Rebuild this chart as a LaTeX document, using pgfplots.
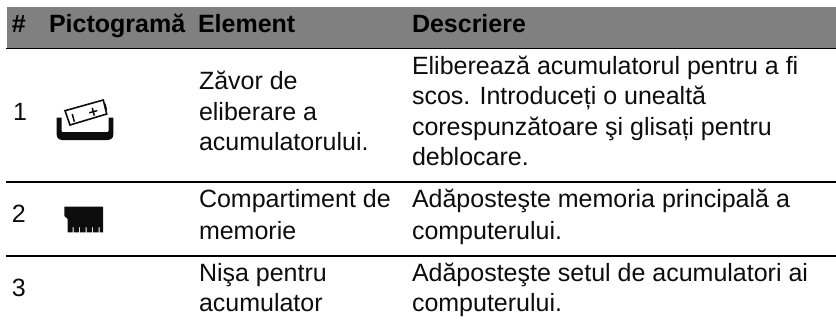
\documentclass[border=0pt]{standalone}
\usepackage{fontspec}
\setmainfont{Liberation Sans}
\usepackage{pgfplots}
\pgfplotsset{compat=1.18}
\definecolor{band}{HTML}{808080}
\definecolor{ink}{HTML}{0D0D0D}
\newcommand{\bt}[1]{\fontsize{25}{30}\selectfont\bfseries\color{black} #1}
\newcommand{\tx}[1]{\fontsize{25}{30}\selectfont #1}
\tikzset{t/.style={inner sep=0pt, outer sep=0pt, anchor=base west, text=ink}}
\begin{document}
\begin{tikzpicture}
\begin{axis}[
  hide axis, scale only axis, width=836pt, height=325pt,
  xmin=0, xmax=836, ymin=0, ymax=325, y dir=reverse,
]
% page
\addplot[draw=none, fill=white] coordinates {(0,0) (836,0) (836,325) (0,325)} --cycle;
% header band
\addplot[draw=none, fill=band] coordinates {(7,7) (836,7) (836,48) (7,48)} --cycle;
% rules
\addplot[black, line width=1.7pt] coordinates {(6,48.5) (836,48.5)};
\addplot[black, line width=1.7pt] coordinates {(6,182) (836,182)};
\addplot[black, line width=1.7pt] coordinates {(6,256) (836,256)};
% tray
\addplot[draw=none, fill=ink] coordinates {(56.7,117.7) (56.7,135) (57.4,137.5) (59,139.2) (62,140) (108,140) (111,139.2) (112.6,137.5) (113.3,135) (113.3,117.7) (108.5,117.7) (108.5,131) (107.5,132) (62.5,132) (61.5,131) (61.5,117.7)} --cycle;
% battery
\addplot[ink, line width=1.6pt] coordinates {(65,110.7) (103.3,100) (106.7,114) (70,125)} --cycle;
\addplot[draw=none, fill=ink] coordinates {(103.8,104) (105.6,103.4) (107.2,110) (105.4,110.6)} --cycle;
\addplot[ink, line width=1.5pt] coordinates {(72.3,114) (74.3,121.7)};
\addplot[ink, line width=1.5pt] coordinates {(89.3,112.8) (97.3,110.6)};
\addplot[ink, line width=1.5pt] coordinates {(92.3,107.8) (94.3,115.6)};
% memory module
\addplot[draw=none, fill=ink] coordinates {(64.3,206.7) (103,206.7) (103,232.3) (99.5,232.3) (99.5,227) (98.5,227) (98.5,232.3) (93,232.3) (93,227) (92,227) (92,232.3) (86.5,232.3) (86.5,227) (85.5,227) (85.5,232.3) (80,232.3) (80,227) (79,227) (79,232.3) (73.5,232.3) (73.5,227) (72.5,227) (72.5,232.3) (67.7,232.3) (67.7,219) (64.3,216)} --cycle;
% header
\node[t] at (axis cs:12,32) {\bt{\#}};
\node[t] at (axis cs:49,32) {\bt{Pictogramă}};
\node[t] at (axis cs:198,32) {\bt{Element}};
\node[t] at (axis cs:412,32) {\bt{Descriere}};
% row 1
\node[t] at (axis cs:13,120) {\tx{1}};
\node[t] at (axis cs:199,89.3) {\tx{Zăvor de}};
\node[t] at (axis cs:199,120) {\tx{eliberare a}};
\node[t] at (axis cs:199,150) {\tx{acumulatorului.}};
\node[t] at (axis cs:412,74.5) {\tx{Eliberează acumulatorul pentru a fi}};
\node[t] at (axis cs:412,104.5) {\tx{scos. Introduceți o unealtă}};
\node[t] at (axis cs:412,135) {\tx{corespunzătoare şi glisați pentru}};
\node[t] at (axis cs:412,165.5) {\tx{deblocare.}};
% row 2
\node[t] at (axis cs:12,222) {\tx{2}};
\node[t] at (axis cs:199,207.3) {\tx{Compartiment de}};
\node[t] at (axis cs:199,239) {\tx{memorie}};
\node[t] at (axis cs:412,207.3) {\tx{Adăposteşte memoria principală a}};
\node[t] at (axis cs:412,239) {\tx{computerului.}};
% row 3
\node[t] at (axis cs:12,296) {\tx{3}};
\node[t] at (axis cs:199,281) {\tx{Nişa pentru}};
\node[t] at (axis cs:199,311.5) {\tx{acumulator}};
\node[t] at (axis cs:412,281) {\tx{Adăposteşte setul de acumulatori ai}};
\node[t] at (axis cs:412,311.5) {\tx{computerului.}};
\end{axis}
\end{tikzpicture}
\end{document}
